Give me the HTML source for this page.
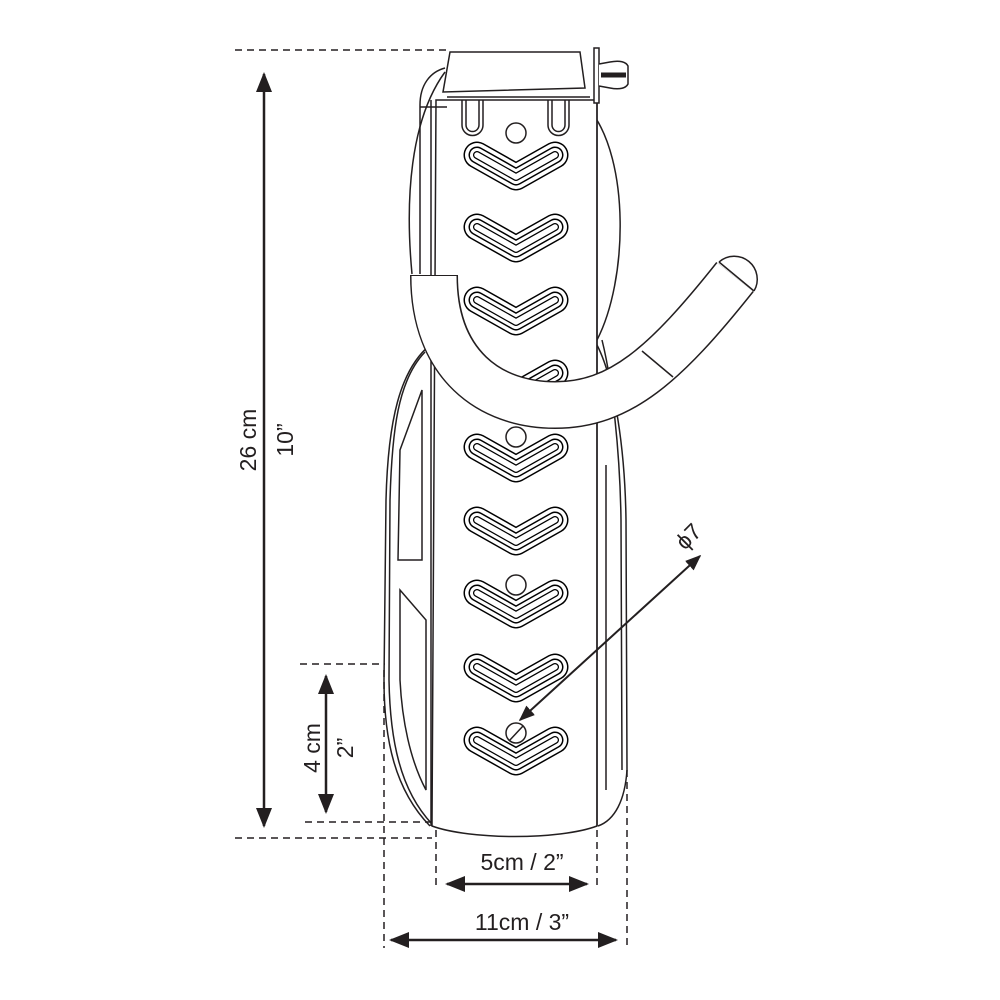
<!DOCTYPE html>
<html><head><meta charset="utf-8"><style>
html,body{margin:0;padding:0;background:#fff}
svg{display:block}
text{font-family:"Liberation Sans",sans-serif;fill:#231f20}
</style></head><body>
<svg width="1000" height="1000" viewBox="0 0 1000 1000" xmlns="http://www.w3.org/2000/svg">
<defs>
<g id="chev">
<polyline points="-39,-10 0,12 39,-10" fill="none" stroke="#000" stroke-width="27" stroke-linecap="round" stroke-linejoin="round"/>
<polyline points="-39,-10 0,12 39,-10" fill="none" stroke="#fff" stroke-width="24" stroke-linecap="round" stroke-linejoin="round"/>
<polyline points="-39,-10 0,12 39,-10" fill="none" stroke="#000" stroke-width="17" stroke-linecap="round" stroke-linejoin="round"/>
<polyline points="-39,-10 0,12 39,-10" fill="none" stroke="#fff" stroke-width="14" stroke-linecap="round" stroke-linejoin="round"/>
<polyline points="-39,-10 0,12 39,-10" fill="none" stroke="#000" stroke-width="8" stroke-linecap="round" stroke-linejoin="round"/>
<polyline points="-39,-10 0,12 39,-10" fill="none" stroke="#fff" stroke-width="5.5" stroke-linecap="round" stroke-linejoin="round"/>
</g>
<marker id="ah" viewBox="0 0 10 10" refX="9" refY="5" markerWidth="8" markerHeight="8" orient="auto-start-reverse"><path d="M0,1 L10,5 L0,9 Z" fill="#231f20"/></marker>
</defs>
<g fill="none" stroke="#231f20" stroke-width="1.5">
<!-- outer shell -->
<path d="M430,345 C400,370 388,420 386,500 L384,680 C384,740 395,790 430,826" fill="#fff"/>
<path d="M425,352 C398,380 392,430 390,500 L389,680 C390,740 400,790 432,824"/>
<path d="M422,390 L422,560 L398,560 L400,450 Z"/>
<path d="M400,590 L426,620 L426,790 C410,760 402,720 400,680 Z"/>
<path d="M597,345 C615,380 625,450 626,520 L627,770 C625,800 615,820 598,826"/>
<path d="M602,340 C612,380 620,450 621,520 L622,770"/>
<line x1="606" y1="465" x2="606" y2="790"/>
<!-- back ellipse -->
<path d="M412,274 C405,200 410,120 445,72 M590,110 C630,160 628,280 597,340" />
<!-- main plate -->
<path d="M436,100 L597,100 L597,826 C560,840 470,840 432,826 Z" fill="#fff"/>
<line x1="431" y1="100" x2="431" y2="826"/>
<line x1="597" y1="100" x2="597" y2="826"/>
<!-- left rail top -->
<path d="M420,274 L420,105 C420,85 430,72 445,68" />
<line x1="420" y1="107" x2="447" y2="107"/>
<!-- slots -->
<path d="M462,100 L462,125 A8,8 0 0 0 483,125 L483,100 M466,100 L466,125 A6,6 0 0 0 479,125 L479,100"/>
<path d="M548,100 L548,125 A8,8 0 0 0 569,125 L569,100 M552,100 L552,125 A6,6 0 0 0 565,125 L565,100"/>
<!-- top cap -->
<path d="M450,52 L580,52 L585,88 L443,92 Z" fill="#fff"/>
<line x1="447" y1="97" x2="590" y2="97"/>
<rect x="594" y="48" width="5" height="55" fill="#fff"/>
<path d="M599,64 L610,62 C620,60 626,62 628,66 L628,84 C626,88 620,90 610,88 L599,86" fill="#fff"/>
<line x1="601" y1="75" x2="626" y2="75" stroke-width="5" stroke="#231f20"/>
<!-- holes -->
<circle cx="516" cy="133" r="10" fill="#fff"/>
<circle cx="516" cy="437" r="10" fill="#fff"/>
<circle cx="516" cy="585" r="10" fill="#fff"/>
<circle cx="516" cy="733" r="10" fill="#fff"/>
<line x1="509" y1="741" x2="523" y2="726"/>
</g>
<use href="#chev" x="516" y="165"/>
<use href="#chev" x="516" y="237"/>
<use href="#chev" x="516" y="310"/>
<use href="#chev" x="516" y="383"/>
<use href="#chev" x="516" y="457"/>
<use href="#chev" x="516" y="530"/>
<use href="#chev" x="516" y="603"/>
<use href="#chev" x="516" y="677"/>
<use href="#chev" x="516" y="750"/>
<!-- hook -->
<path d="M434,275 C434,365 490,405 555,405 C620,405 665,365 735,277" fill="none" stroke="#231f20" stroke-width="48"/>
<path d="M434,276 C434,365 490,405 555,405 C620,405 665,365 735,277" fill="none" stroke="#fff" stroke-width="45"/>
<path d="M719,262 A23,23 0 0 1 754,291" fill="#fff" stroke="#231f20" stroke-width="1.5"/>
<line x1="719" y1="262" x2="754" y2="291" stroke="#231f20" stroke-width="1.5"/>
<line x1="642" y1="351" x2="673" y2="377" stroke="#231f20" stroke-width="1.5"/>
<!-- dimensions -->
<g stroke="#231f20" stroke-width="1.5" fill="none" stroke-dasharray="7,5">
<line x1="235" y1="50" x2="447" y2="50"/>
<line x1="235" y1="838" x2="432" y2="838"/>
<line x1="300" y1="664" x2="385" y2="664"/>
<line x1="305" y1="822" x2="432" y2="822"/>
<line x1="436" y1="830" x2="436" y2="890"/>
<line x1="597" y1="830" x2="597" y2="890"/>
<line x1="384" y1="670" x2="384" y2="948"/>
<line x1="627" y1="770" x2="627" y2="948"/>
</g>
<g stroke="#231f20" stroke-width="2.5">
<line x1="264" y1="74" x2="264" y2="826" marker-start="url(#ah)" marker-end="url(#ah)"/>
<line x1="326" y1="676" x2="326" y2="812" marker-start="url(#ah)" marker-end="url(#ah)"/>
<line x1="447" y1="884" x2="587" y2="884" marker-start="url(#ah)" marker-end="url(#ah)"/>
<line x1="391" y1="940" x2="616" y2="940" marker-start="url(#ah)" marker-end="url(#ah)"/>
<line x1="700" y1="556" x2="520" y2="720" stroke-width="2" marker-start="url(#ah)" marker-end="url(#ah)"/>
</g>
<text x="0" y="0" font-size="23" text-anchor="middle" transform="translate(256,440) rotate(-90)">26 cm</text>
<text x="0" y="0" font-size="23" text-anchor="middle" transform="translate(293,440) rotate(-90)">10”</text>
<text x="0" y="0" font-size="23" text-anchor="middle" transform="translate(320,748) rotate(-90)">4 cm</text>
<text x="0" y="0" font-size="23" text-anchor="middle" transform="translate(353,748) rotate(-90)">2”</text>
<text x="522" y="870" font-size="23" text-anchor="middle">5cm / 2”</text>
<text x="522" y="930" font-size="23" text-anchor="middle">11cm / 3”</text>
<text x="0" y="0" font-size="23" text-anchor="middle" transform="translate(694,542) rotate(-45)">ϕ7</text>
</svg>
</body></html>
